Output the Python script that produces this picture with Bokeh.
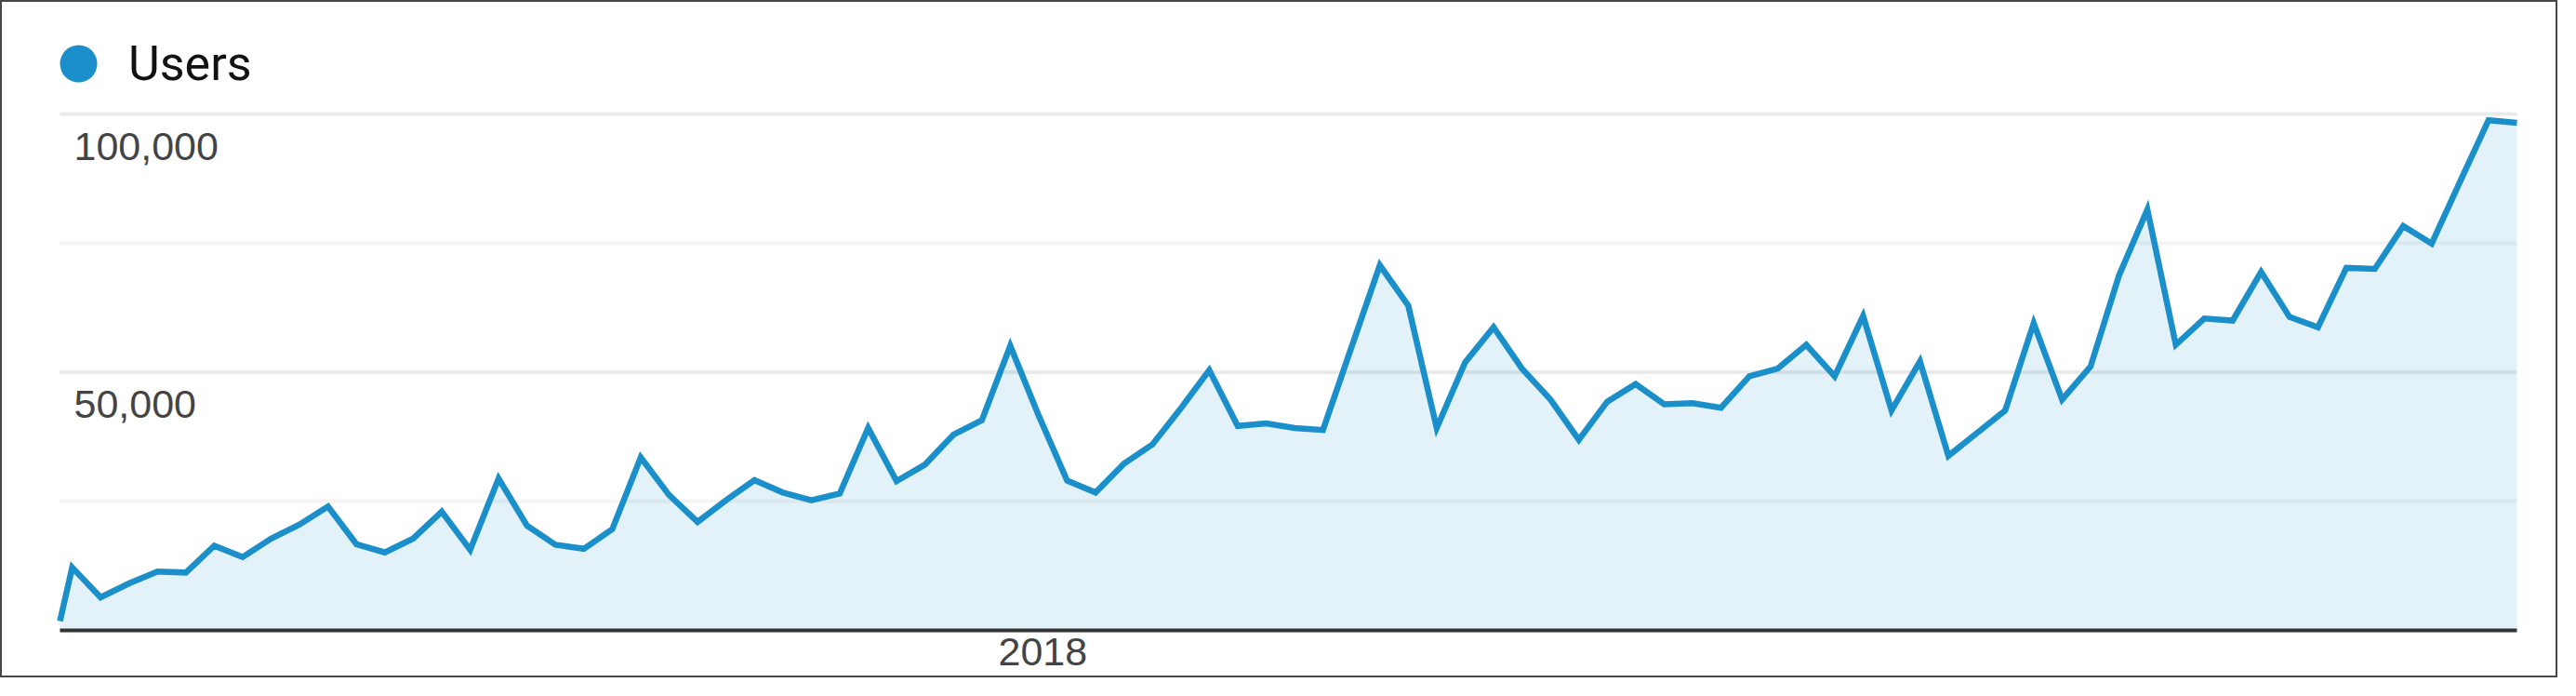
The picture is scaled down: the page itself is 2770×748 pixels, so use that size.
import pandas as pd
from bokeh.plotting import figure
from bokeh.models import (ColumnDataSource, Range1d, LabelSet, Legend,
                          LegendItem)
from bokeh.embed import file_html
from bokeh.resources import INLINE
from bokeh.core.properties import value

# ---------------- data ----------------
series_name = "Users"
first_day = "2017-05-04"        # partial first period
first_week = "2017-05-07"       # then weekly points
users = [
    1.8, 12.2, 6.4, 9.1, 11.4, 11.2, 16.4, 14.2, 17.8, 20.5,
    24.0, 16.7, 15.1, 17.8, 23.0, 15.6, 29.4, 20.3, 16.6, 15.8,
    19.6, 33.5, 26.2, 21.0, 25.2, 29.1, 26.7, 25.2, 26.5, 39.2,
    28.9, 32.1, 37.9, 40.7, 55.1, 41.6, 29.0, 26.7, 32.3, 36.0,
    43.0, 50.4, 39.6, 40.1, 39.2, 38.8, 54.8, 70.7, 62.9, 39.2,
    51.9, 58.7, 50.7, 44.7, 36.9, 44.3, 47.7, 43.8, 44.0, 43.1,
    49.2, 50.7, 55.3, 49.2, 60.9, 42.6, 52.1, 33.8, 38.2, 42.6,
    59.5, 44.7, 51.1, 68.7, 81.5, 55.3, 60.4, 60.0, 69.4, 60.7,
    58.7, 70.2, 70.0, 78.3, 74.9, 86.9, 98.8, 98.3,
]  # thousands
y_major_ticks = [50000, 100000]
y_major_labels = ["50,000", "100,000"]
y_minor_ticks = [25000, 75000]
x_ticks = ["2018-01-01"]
x_tick_labels = ["2018"]

dates = [pd.Timestamp(first_day)] + list(
    pd.date_range(first_week, periods=len(users) - 1, freq="7D"))
vals = [v * 1000 for v in users]
src = ColumnDataSource(dict(date=dates, users=vals))

# ---------------- layout (pixels inside the canvas) ----------------
LINE = "#1a8fca"
W, H = 2750, 728
PX_LEFT, PX_RIGHT = 62, 2704        # first / last data point
PX_ZERO, PX_TOP = 675, 120          # y = 0 / y = top tick
Y_TOP = max(y_major_ticks)

t0 = dates[0].value / 1e6
t1 = dates[-1].value / 1e6
ms_per_px = (t1 - t0) / (PX_RIGHT - PX_LEFT)
u_per_px = Y_TOP / (PX_ZERO - PX_TOP)

p = figure(width=W, height=H, x_axis_type="datetime",
           output_backend="svg", toolbar_location=None,
           x_range=Range1d(t0 - PX_LEFT * ms_per_px,
                           t1 + (W - PX_RIGHT) * ms_per_px),
           y_range=Range1d(-(H - PX_ZERO) * u_per_px,
                           Y_TOP + PX_TOP * u_per_px),
           min_border_left=0, min_border_right=0,
           min_border_top=0, min_border_bottom=0)
p.styles = {"border": "2px solid #474747"}
p.outline_line_color = None
p.background_fill_color = "white"
p.border_fill_color = "white"
p.grid.visible = False
p.axis.visible = False

# grid lines, only across the data span
g_y = y_major_ticks + y_minor_ticks
g_col = ["#eaeaea"] * len(y_major_ticks) + ["#f4f4f4"] * len(y_minor_ticks)
gsrc = ColumnDataSource(dict(x0=[dates[0]] * len(g_y), x1=[dates[-1]] * len(g_y),
                             y=g_y, c=g_col))
p.segment(x0="x0", y0="y", x1="x1", y1="y", source=gsrc,
          line_color="c", line_width=4)

p.varea(x="date", y1=0, y2="users", source=src,
        fill_color="#058DC7", fill_alpha=0.115)

# x axis base line
p.segment(x0=[dates[0]], y0=[0], x1=[dates[-1]], y1=[0],
          line_color="#333333", line_width=4)

p.line(x="date", y="users", source=src, line_color=LINE,
       line_width=6.5, line_join="miter")

ysrc = ColumnDataSource(dict(x=[dates[0]] * len(y_major_ticks),
                             y=y_major_ticks, text=y_major_labels))
p.add_layout(LabelSet(x="x", y="y", text="text", source=ysrc,
                      x_offset=15, y_offset=-49,
                      text_font=value("Liberation Sans"),
                      text_font_size="43px", text_color="#444444",
                      text_align="left", text_baseline="alphabetic"))

xsrc = ColumnDataSource(dict(x=[pd.Timestamp(t) for t in x_ticks],
                             y=[0] * len(x_ticks), text=x_tick_labels))
p.add_layout(LabelSet(x="x", y="y", text="text", source=xsrc,
                      y_offset=-37,
                      text_font=value("Liberation Sans"),
                      text_font_size="43px", text_color="#444444",
                      text_align="center", text_baseline="alphabetic"))

# legend marker: one hidden (NaN) point so the legend draws its glyph
dot_src = ColumnDataSource(dict(x=[dates[0]], y=[float("nan")]))
dot = p.scatter(x="x", y="y", source=dot_src, marker="circle", size=40,
                fill_color=LINE, line_color=None)
leg = Legend(items=[LegendItem(label=series_name, renderers=[dot])],
             location=(32, H - 116), glyph_width=100, glyph_height=100,
             label_standoff=4, padding=0, margin=0, spacing=0,
             border_line_color=None, background_fill_alpha=0,
             label_text_font="Roboto", label_text_font_size="52px",
             label_text_color="#111111")
p.add_layout(leg)

open("out.html", "w").write(file_html(p, INLINE))
